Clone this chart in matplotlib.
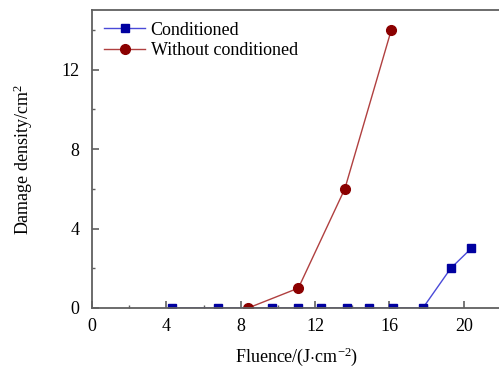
import matplotlib
matplotlib.use('Agg')
import matplotlib.pyplot as plt
from matplotlib.ticker import MultipleLocator

plt.rcParams['font.family'] = ['Liberation Serif', 'DejaVu Serif']
plt.rcParams['mathtext.fontset'] = 'custom'
plt.rcParams['mathtext.rm'] = 'Liberation Serif'
plt.rcParams['mathtext.it'] = 'Liberation Serif:italic'

# data
cond_x = [4.3, 6.8, 9.7, 11.1, 12.3, 13.7, 14.9, 16.2, 17.8, 19.3, 20.4]
cond_y = [0, 0, 0, 0, 0, 0, 0, 0, 0, 2, 3]
without_x = [8.4, 11.1, 13.6, 16.1]
without_y = [0, 1, 6, 14]

fig = plt.figure(figsize=(4.99, 3.73), dpi=100)
ax = fig.add_axes([0.1844, 0.1743, 0.8196, 0.7989])

ax.plot(cond_x, cond_y, color='#4a4ad8', linewidth=1.0,
        marker='s', markersize=6.3, markerfacecolor='#0000a0',
        markeredgecolor='#0000a0', label='Conditioned', zorder=3)
ax.plot(without_x, without_y, color='#b04040', linewidth=1.0,
        marker='o', markersize=7, markerfacecolor='#8b0000',
        markeredgecolor='#8b0000', label='Without conditioned', zorder=4)

ax.set_xlim(0, 22)
ax.set_ylim(0, 15)
ax.xaxis.set_major_locator(MultipleLocator(4))
ax.xaxis.set_minor_locator(MultipleLocator(2))
ax.yaxis.set_major_locator(MultipleLocator(4))
ax.yaxis.set_minor_locator(MultipleLocator(2))

ax.spines['right'].set_visible(False)
for s in ('left', 'bottom', 'top'):
    ax.spines[s].set_color('#606060')
    ax.spines[s].set_linewidth(1.3)
    ax.spines[s].set_zorder(6)

ax.tick_params(which='major', direction='in', length=5, width=1.2,
               color='#606060', labelsize=13, top=False, right=False)
ax.tick_params(which='minor', direction='in', length=2.5, width=1.0,
               color='#606060', top=False, right=False)
ax.tick_params(axis='y', which='major', pad=9)
ax.tick_params(axis='x', which='major', pad=7)

ax.set_xlabel(r'Fluence/(J$\cdot$cm$^{-2}$)', fontsize=13, labelpad=8)
ax.set_ylabel(r'Damage density/cm$^{2}$', fontsize=13, labelpad=19)

ax.legend(loc='upper left', frameon=False, fontsize=13,
          handlelength=2.3, handletextpad=0.3, borderaxespad=0.25,
          labelspacing=0.2, bbox_to_anchor=(0.0, 1.0))

fig.savefig('out.png', dpi=100)
